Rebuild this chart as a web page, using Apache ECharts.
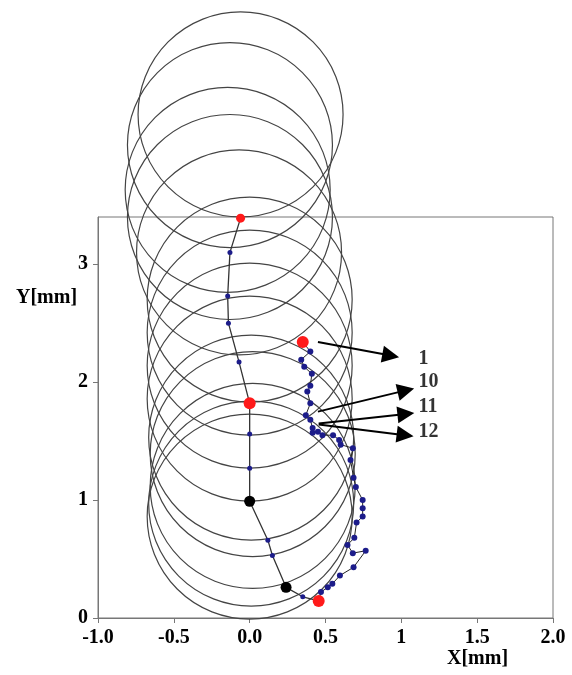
<!DOCTYPE html>
<html>
<head>
<meta charset="utf-8">
<title>Trajectory</title>
<script src="https://cdn.jsdelivr.net/npm/echarts@6/dist/echarts.min.js"></script>
<style>
  html, body { margin: 0; padding: 0; background: #fff; }
  #main { width: 572px; height: 675px; }
</style>
</head>
<body>
<div id="main"></div>
<script type="text/javascript">
// circle centres [x, y] in mm
var circleCenters = [
    [-0.06, 4.27], [-0.13, 4.01], [-0.145, 3.63], [-0.13, 3.40], [-0.07, 3.10],
    [0.0, 2.70], [0.0, 2.42], [0.0, 2.14], [0.0, 1.86], [0.01, 1.53],
    [0.02, 1.39], [0.02, 1.12], [0.01, 0.97], [0.0, 0.86]
];
// black path (left)
var centerPath = [
    [-0.06, 3.39], [-0.13, 3.10], [-0.145, 2.73], [-0.14, 2.50], [-0.07, 2.17],
    [0.0, 1.82], [0.0, 1.56], [0.0, 1.27], [0.0, 0.99], [0.12, 0.66],
    [0.15, 0.53], [0.24, 0.26], [0.35, 0.18], [0.455, 0.145]
];
// blue path (right)
var contactPath = [
    [0.35, 2.34], [0.40, 2.26], [0.34, 2.19], [0.36, 2.13], [0.41, 2.07],
    [0.40, 1.97], [0.38, 1.92], [0.40, 1.82], [0.37, 1.72], [0.40, 1.68],
    [0.415, 1.61], [0.415, 1.57], [0.45, 1.58], [0.48, 1.55], [0.55, 1.55],
    [0.59, 1.51], [0.60, 1.47], [0.68, 1.44], [0.665, 1.34], [0.685, 1.19],
    [0.70, 1.11], [0.745, 1.00], [0.745, 0.93], [0.745, 0.86], [0.705, 0.81],
    [0.69, 0.68], [0.645, 0.62], [0.68, 0.55], [0.765, 0.57], [0.685, 0.43],
    [0.595, 0.36], [0.545, 0.29], [0.515, 0.26], [0.47, 0.22], [0.455, 0.145]
];
var redPoints = [[-0.06, 3.39, 9], [0.0, 1.82, 12], [0.35, 2.34, 12], [0.455, 0.145, 12]];
var blackPoints = [[0.0, 0.99, 11], [0.24, 0.26, 11]];
// arrows: [start, end]
var arrows = [
    [[0.45, 2.34], [0.93, 2.225]],
    [[0.45, 1.75], [1.03, 1.93]],
    [[0.455, 1.65], [1.03, 1.73]],
    [[0.455, 1.64], [1.025, 1.55]]
];
var arrowLabels = [[1.11, 2.20, '1'], [1.11, 2.00, '10'], [1.11, 1.79, '11'], [1.11, 1.58, '12']];
var xTickLabels = { '-1': '-1.0', '-0.5': '-0.5', '0': '0.0', '0.5': '0.5', '1': '1', '1.5': '1.5', '2': '2.0' };
var yTicks = [0, 1, 2, 3];

var serif = '"Liberation Serif", "Times New Roman", serif';
var chart = echarts.init(document.getElementById('main'));

chart.setOption({
    animation: false,
    grid: {
        left: 98, right: 19, top: 217, bottom: 57,
        show: true, borderColor: '#777', borderWidth: 1
    },
    xAxis: {
        type: 'value', min: -1, max: 2, interval: 0.5,
        axisLine: { show: true, onZero: false, lineStyle: { color: '#777' } },
        axisTick: { show: true, length: 5, lineStyle: { color: '#777' } },
        splitLine: { show: false },
        axisLabel: {
            margin: 10, color: '#000', fontFamily: serif, fontWeight: 'bold', fontSize: 20,
            formatter: function (v) { return xTickLabels[String(v)] || ''; }
        }
    },
    yAxis: {
        type: 'value', min: 0, max: 3.4,
        axisLine: { show: true, onZero: false, lineStyle: { color: '#777' } },
        axisTick: { show: true, length: 5, customValues: yTicks, lineStyle: { color: '#777' } },
        splitLine: { show: false },
        axisLabel: {
            margin: 10, color: '#000', fontFamily: serif, fontWeight: 'bold', fontSize: 20,
            customValues: yTicks
        }
    },
    graphic: [
        { type: 'text', left: 16, top: 288, style: { text: 'Y[mm]', font: 'bold 20px ' + serif, fill: '#000' } },
        { type: 'text', left: 447, top: 649, style: { text: 'X[mm]', font: 'bold 20px ' + serif, fill: '#000' } }
    ],
    series: [
        {
            name: 'circles', type: 'scatter', clip: false, silent: true,
            symbol: 'circle', symbolSize: 205,
            itemStyle: { color: 'transparent', borderColor: '#444', borderWidth: 1.2, opacity: 1 },
            data: circleCenters, z: 1
        },
        {
            name: 'center', type: 'line', clip: false, silent: true,
            symbol: 'circle', symbolSize: 5,
            lineStyle: { color: '#333', width: 1.3 },
            itemStyle: { color: '#1c1c8a' },
            data: centerPath, z: 2
        },
        {
            name: 'contact', type: 'line', clip: false, silent: true,
            symbol: 'circle', symbolSize: 6,
            lineStyle: { color: '#222', width: 1 },
            itemStyle: { color: '#1c1c8a' },
            data: contactPath, z: 3
        },
        {
            name: 'black', type: 'scatter', silent: true,
            symbolSize: function (d) { return d[2]; },
            itemStyle: { color: '#000', opacity: 1 },
            data: blackPoints, z: 4
        },
        {
            name: 'red', type: 'scatter', clip: false, silent: true,
            symbolSize: function (d) { return d[2]; },
            itemStyle: { color: '#ff1a1a', opacity: 1 },
            data: redPoints, z: 5
        },
        {
            name: 'labels', type: 'scatter', silent: true,
            symbolSize: 1, itemStyle: { color: 'transparent' },
            label: {
                show: true, position: 'right', distance: 0,
                color: '#000', fontFamily: serif, fontWeight: 'bold', fontSize: 20,
                formatter: function (p) { return p.data[2]; }
            },
            data: arrowLabels,
            markLine: {
                silent: true, animation: false,
                symbol: ['none', 'triangle'], symbolSize: 17,
                label: { show: false },
                lineStyle: { color: '#000', width: 2, type: 'solid' },
                itemStyle: { color: '#000' },
                data: arrows.map(function (a) {
                    return [{ coord: a[0] }, { coord: a[1] }];
                })
            },
            z: 6
        }
    ]
});
</script>
</body>
</html>
